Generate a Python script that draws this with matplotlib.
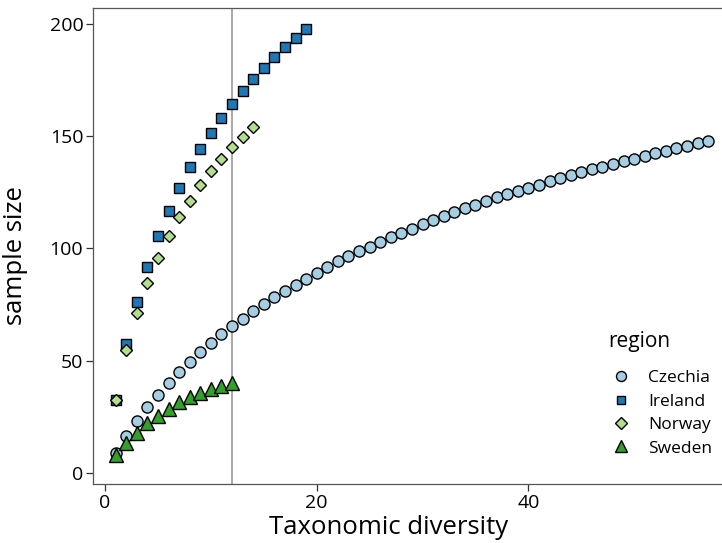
import matplotlib
matplotlib.use("Agg")
import matplotlib.pyplot as plt

plt.rcParams['font.family'] = ['Open Sans', 'DejaVu Sans']

# rarefaction-style curves: diversity (x) vs sample size (y)
czechia_x = list(range(1, 58))
czechia_y = [9, 16.5, 23.3, 29.2, 34.9, 40.2, 45, 49.6, 53.9, 58, 61.8, 65.5,
             68.6, 72, 75.3, 78.3, 81.2, 83.9, 86.4, 89.2, 91.8, 94.4, 96.8,
             98.9, 100.8, 102.8, 105, 106.8, 108.8, 110.8, 112.8, 114.6, 116.3,
             118, 119.5, 121.2, 122.8, 124.3, 125.8, 127.1, 128.3, 129.9, 131.3,
             132.7, 134.1, 135.3, 136.4, 137.6, 138.8, 140, 141.2, 142.4, 143.5,
             144.8, 145.7, 146.9, 148]

ireland_x = list(range(1, 20))
ireland_y = [32.5, 57.5, 76.3, 91.9, 105.4, 116.8, 127, 136.4, 144.2, 151.6,
             158.3, 164.4, 170.3, 175.4, 180.4, 185.2, 189.6, 193.9, 197.8]

norway_x = list(range(1, 15))
norway_y = [32.5, 54.8, 71.4, 84.8, 95.9, 105.4, 113.9, 121.3, 128.3, 134.6,
            139.9, 145, 149.8, 154.1]

sweden_x = list(range(1, 13))
sweden_y = [8, 13.5, 18, 22.1, 25.5, 28.7, 31.5, 33.7, 35.8, 37.4, 38.8, 40]

cutoff = 12

fig = plt.figure(figsize=(7.22, 5.43), dpi=100)
ax = fig.add_axes([0.1288, 0.1087, 0.8712, 0.8766])

ax.axvline(cutoff, color="#9a9a9a", lw=1.2, zorder=1)

ax.plot(czechia_x, czechia_y, 'o', ms=8, mfc="#a6cee3", mec="black", mew=1.0,
        label="Czechia", zorder=3)
ax.plot(ireland_x, ireland_y, 's', ms=7, mfc="#1f78b4", mec="black", mew=1.0,
        label="Ireland", zorder=3)
ax.plot(norway_x, norway_y, 'D', ms=6.5, mfc="#b2df8a", mec="black", mew=1.0,
        label="Norway", zorder=3)
ax.plot(sweden_x, sweden_y, '^', ms=9.5, mfc="#33a02c", mec="black", mew=1.0,
        label="Sweden", zorder=3)

ax.set_xlim(-1.14, 58.3)
ax.set_ylim(-4.9, 207.1)
ax.set_xticks([0, 20, 40])
ax.set_yticks([0, 50, 100, 150, 200])

for s in ax.spines.values():
    s.set_color("#555555")
    s.set_linewidth(0.9)
ax.spines['right'].set_visible(False)
ax.tick_params(axis='both', colors="#333333", labelcolor="black",
               labelsize=14, length=5, width=0.9, pad=2)

ax.set_xlabel("Taxonomic diversity", fontsize=18.5)
ax.xaxis.set_label_coords(0.4706, -0.066)
ax.set_ylabel("sample size", fontsize=18.5)
ax.yaxis.set_label_coords(-0.103, 0.479)

leg = ax.legend(title="region", loc="upper left",
                bbox_to_anchor=(608 / 722, 1 - 331 / 543),
                bbox_transform=fig.transFigure,
                frameon=False, fontsize=12.5, title_fontsize=15,
                handlelength=1.5, handletextpad=0.8, labelspacing=0.42,
                borderpad=0, borderaxespad=0, markerscale=0.9)
leg._legend_box.align = "left"
leg._legend_box.sep = 13

fig.savefig("out.png", dpi=100)
